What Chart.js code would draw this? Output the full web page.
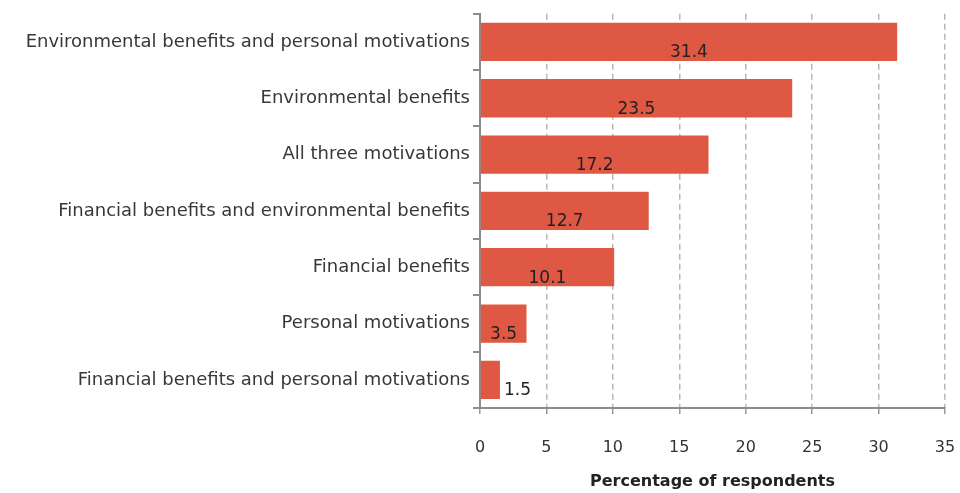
<!DOCTYPE html>
<html>
<head>
<meta charset="utf-8">
<script src="https://cdn.jsdelivr.net/npm/chart.js@4"></script>
<style>
  html, body { margin: 0; padding: 0; background: #fff; }
  #wrap { width: 960px; height: 493px; }
</style>
</head>
<body>
<div id="wrap"><canvas id="chart" width="960" height="493"></canvas></div>
<script>
// motivation categories, top to bottom
const categories = [
  'Environmental benefits and personal motivations',
  'Environmental benefits',
  'All three motivations',
  'Financial benefits and environmental benefits',
  'Financial benefits',
  'Personal motivations',
  'Financial benefits and personal motivations',
];
const shares = [31.4, 23.5, 17.2, 12.7, 10.1, 3.5, 1.5];
const xTicks = [0, 5, 10, 15, 20, 25, 30, 35];

const FONT = "'DejaVu Sans', sans-serif";

// value labels: centred a little below the bar middle, outside for tiny bars
const barLabels = {
  id: 'barLabels',
  afterDatasetsDraw(chart) {
    const ctx = chart.ctx;
    const meta = chart.getDatasetMeta(0);
    ctx.save();
    ctx.font = '17px ' + FONT;
    ctx.fillStyle = '#222';
    ctx.textBaseline = 'middle';
    meta.data.forEach((bar, i) => {
      const v = shares[i];
      const y = bar.y + 11;
      if (v < 2) {
        ctx.textAlign = 'left';
        ctx.fillText(v.toFixed(1), bar.x + 4, y);
      } else {
        ctx.textAlign = 'center';
        ctx.fillText(v.toFixed(1), (bar.base + bar.x) / 2, y);
      }
    });
    ctx.restore();
  },
};

new Chart(document.getElementById('chart'), {
  type: 'bar',
  data: {
    labels: categories,
    datasets: [{
      data: shares,
      backgroundColor: '#DF5843',
      borderWidth: 0,
      barPercentage: 0.68,
      categoryPercentage: 1,
    }],
  },
  options: {
    indexAxis: 'y',
    responsive: false,
    animation: false,
    layout: { padding: { top: 13, right: 0, bottom: 2, left: 0 } },
    plugins: {
      legend: { display: false },
      tooltip: { enabled: false },
    },
    scales: {
      x: {
        min: 0,
        max: 35,
        afterBuildTicks: (s) => { s.ticks = xTicks.map((v) => ({ value: v })); },
        afterFit: (s) => { s.height = 83; s.paddingRight = 15; },
        grid: { color: '#b8b8b8', lineWidth: 1.5, tickLength: 6, tickColor: '#999', tickBorderDash: [] },
        border: { display: true, color: '#8c8c8c', width: 2, dash: [6, 4] },
        ticks: { color: '#333', font: { family: FONT, size: 16 }, padding: 24 },
        title: {
          display: true,
          text: 'Percentage of respondents',
          color: '#222',
          font: { family: FONT, size: 16, weight: 'bold' },
          padding: { top: 0, bottom: 0 },
        },
      },
      y: {
        afterFit: (s) => { s.width = 480; },
        grid: { display: true, drawOnChartArea: false, tickLength: 7, color: '#8c8c8c', lineWidth: 2 },
        border: { display: true, color: '#8c8c8c', width: 2 },
        ticks: { color: '#383838', font: { family: FONT, size: 18 }, padding: 3 },
      },
    },
  },
  plugins: [barLabels],
});
</script>
</body>
</html>
